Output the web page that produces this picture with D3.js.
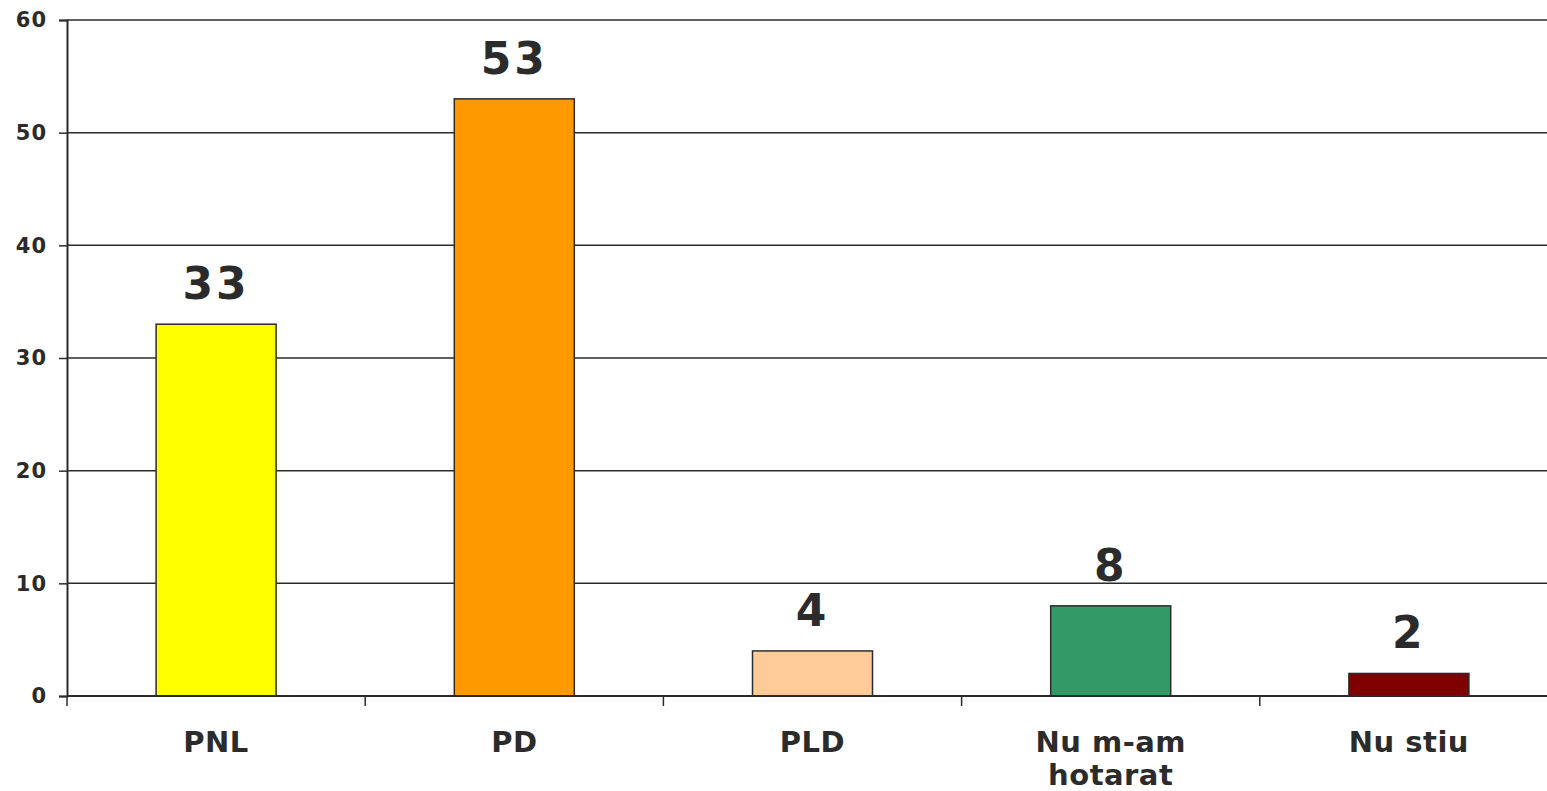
<!DOCTYPE html>
<html><head><meta charset="utf-8">
<script src="https://cdn.jsdelivr.net/npm/d3@7"></script>
<style>body{margin:0;background:#fff}svg{display:block}</style>
</head><body>
<svg id="c" width="1547" height="791"></svg>
<script>
const categories = [["PNL"], ["PD"], ["PLD"], ["Nu m-am", "hotarat"], ["Nu stiu"]];
const values = [33, 53, 4, 8, 2];
const colors = ["#ffff00", "#ff9900", "#ffcc99", "#339966", "#800000"];
const yTicks = [0, 10, 20, 30, 40, 50, 60];

(function () {
const svg = d3.select("#c");
const mLeft = 67, mTop = 20, mBottom = 696, bandW = 298.2;
const x = d3.scaleBand().domain(d3.range(categories.length)).range([mLeft, mLeft + bandW * categories.length]).padding(0);
const y = d3.scaleLinear().domain([0, 60]).range([mBottom, mTop]);
const center = i => x(i) + x.bandwidth() / 2;
const barW = 120;
const ink = "#2b2b2b";
const font = "DejaVu Sans, Verdana, sans-serif";

// gridlines
svg.append("g").selectAll("line").data(yTicks).join("line")
  .attr("x1", mLeft).attr("x2", 1547)
  .attr("y1", d => y(d)).attr("y2", d => y(d))
  .attr("stroke", ink).attr("stroke-width", 1.5);

// y axis
const ya = svg.append("g").attr("transform", `translate(${mLeft},0)`)
  .call(d3.axisLeft(y).tickValues(yTicks).tickSize(8).tickPadding(12));
ya.select(".domain").attr("stroke", ink).attr("stroke-width", 2);
ya.selectAll(".tick line").attr("stroke", ink).attr("stroke-width", 1.5);
ya.selectAll(".tick text").attr("fill", ink).attr("font-family", font)
  .attr("font-weight", "bold").attr("font-size", 21).attr("letter-spacing", 1);

// x axis ticks
const xTickPos = d3.range(0, categories.length + 1).map(i => mLeft + x.step() * i);
svg.append("g").selectAll("line").data(xTickPos).join("line")
  .attr("x1", d => d).attr("x2", d => d).attr("y1", mBottom).attr("y2", mBottom + 10)
  .attr("stroke", ink).attr("stroke-width", 1.5);

// bars
svg.append("g").selectAll("rect").data(values).join("rect")
  .attr("x", (d, i) => center(i) - barW / 2)
  .attr("width", barW)
  .attr("y", d => y(d))
  .attr("height", d => mBottom - y(d))
  .attr("fill", (d, i) => colors[i])
  .attr("stroke", ink).attr("stroke-width", 1.5);

// x axis baseline
svg.append("line").attr("x1", mLeft).attr("x2", 1547).attr("y1", mBottom).attr("y2", mBottom)
  .attr("stroke", ink).attr("stroke-width", 2);

// value labels
svg.append("g").selectAll("text").data(values).join("text")
  .attr("x", (d, i) => center(i)).attr("y", d => y(d) - 25)
  .attr("text-anchor", "middle").attr("fill", ink)
  .attr("font-family", font).attr("font-weight", "bold").attr("font-size", 44)
  .attr("letter-spacing", 3)
  .text(d => d);

// category labels
const cl = svg.append("g").selectAll("text").data(categories).join("text")
  .attr("x", (d, i) => center(i)).attr("y", 752)
  .attr("text-anchor", "middle").attr("fill", ink)
  .attr("font-family", font).attr("font-weight", "bold").attr("font-size", 29)
  .attr("letter-spacing", 0.5);
cl.each(function (lines, i) {
  d3.select(this).selectAll("tspan").data(lines).join("tspan")
    .attr("x", center(i))
    .attr("dy", (d, j) => j === 0 ? 0 : 33)
    .text(d => d);
});
})();
</script>
</body></html>
